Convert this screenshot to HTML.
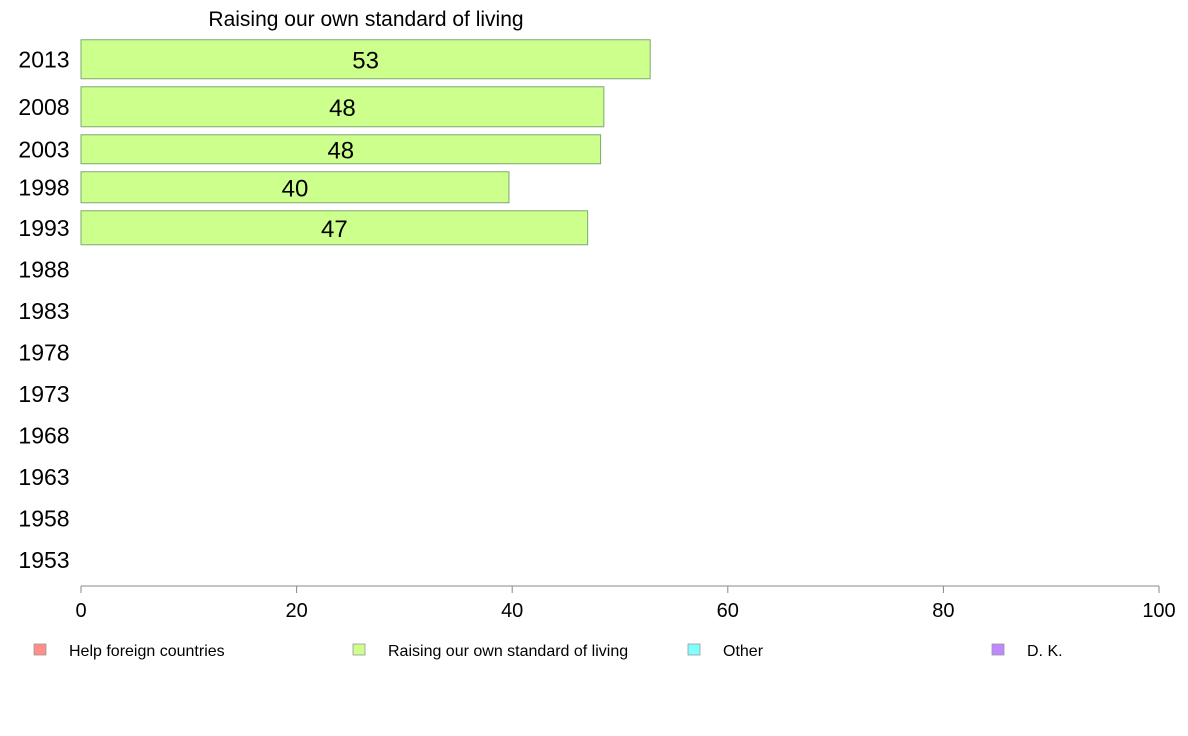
<!DOCTYPE html>
<html><head><meta charset="utf-8"><style>
html,body{margin:0;padding:0;background:#fff;}
svg{display:block;font-family:"Liberation Sans",Arial,sans-serif;}
</style></head><body>
<svg id="chart" width="1188" height="736" viewBox="0 0 1188 736" xmlns="http://www.w3.org/2000/svg">
<text x="366" y="26" font-size="21" text-anchor="middle" fill="#000">Raising our own standard of living</text>
<g id="bars"></g>
<g id="yaxis"></g>
<g id="xaxis"></g>
<g id="legend"></g>
</svg>
<script>
const years = ["1953","1958","1963","1968","1973","1978","1983","1988","1993","1998","2003","2008","2013"];
const values = [null,null,null,null,null,null,null,null,47.0,39.7,48.2,48.5,52.8];
const valueLabels = ["","","","","","","","","47","40","48","48","53"];
const thickness = [null,null,null,null,null,null,null,null,34,31,29,40,39];
const xTicks = [0,20,40,60,80,100];
const legendLabels = ["Help foreign countries","Raising our own standard of living","Other","D. K."];
const legendColors = ["#ff8f88","#ccff8c","#80ffff","#bf88ff"];

const NS="http://www.w3.org/2000/svg";
function mk(tag,attrs,parent){const e=document.createElementNS(NS,tag);for(const k in attrs)e.setAttribute(k,attrs[k]);parent.appendChild(e);return e;}
const x0=81,x1=1159;
function xScale(v){return x0+(x1-x0)*v/100;}
// y centers: stacked bands from bottom
const centers=[];
let y=560, prevHalf=null;
for(let i=0;i<years.length;i++){
  const band=(thickness[i]||33.5)+8;
  if(prevHalf!==null) y-=prevHalf+band/2;
  centers.push(y); prevHalf=band/2;
}
const bars=document.getElementById('bars');
const yaxis=document.getElementById('yaxis');
for(let i=0;i<years.length;i++){
  const t=mk('text',{x:44,y:centers[i]+8,'font-size':23,'text-anchor':'middle',fill:'#000'},yaxis);
  
  
  t.textContent=years[i];
  if(values[i]!==null){
    const h=thickness[i];
    const r=mk('rect',{x:x0,y:centers[i]-h/2,width:xScale(values[i])-x0,height:h,fill:'#ccff8c',stroke:'#7fa870','stroke-width':1},bars);
    
    
    const l=mk('text',{x:(x0+xScale(values[i]))/2,y:centers[i]+9,'font-size':24,'text-anchor':'middle',fill:'#000'},bars);
    
    
    l.textContent=valueLabels[i];
  }
}
const xaxis=document.getElementById('xaxis');
const al=mk('line',{x1:x0,x2:x1,y1:586,y2:586,stroke:'#888','stroke-width':1},xaxis);


xTicks.forEach(v=>{
  const tk=mk('line',{x1:xScale(v),x2:xScale(v),y1:586,y2:593,stroke:'#888','stroke-width':1},xaxis);
  
  
  const tl=mk('text',{x:xScale(v),y:617,'font-size':20,'text-anchor':'middle',fill:'#000'},xaxis);
  
  
  tl.textContent=v;
});
const legend=document.getElementById('legend');
const lx=[40,359,694,998];
legendLabels.forEach((lab,i)=>{
  const g=mk('g',{},legend);
  
  
  mk('rect',{x:lx[i]-6,y:644,width:12,height:11,fill:legendColors[i],stroke:'#999','stroke-width':0.8},g);
  const t=mk('text',{x:lx[i]+29,y:656,'font-size':16,fill:'#000'},g);
  t.textContent=lab;
});
</script>
</body></html>
